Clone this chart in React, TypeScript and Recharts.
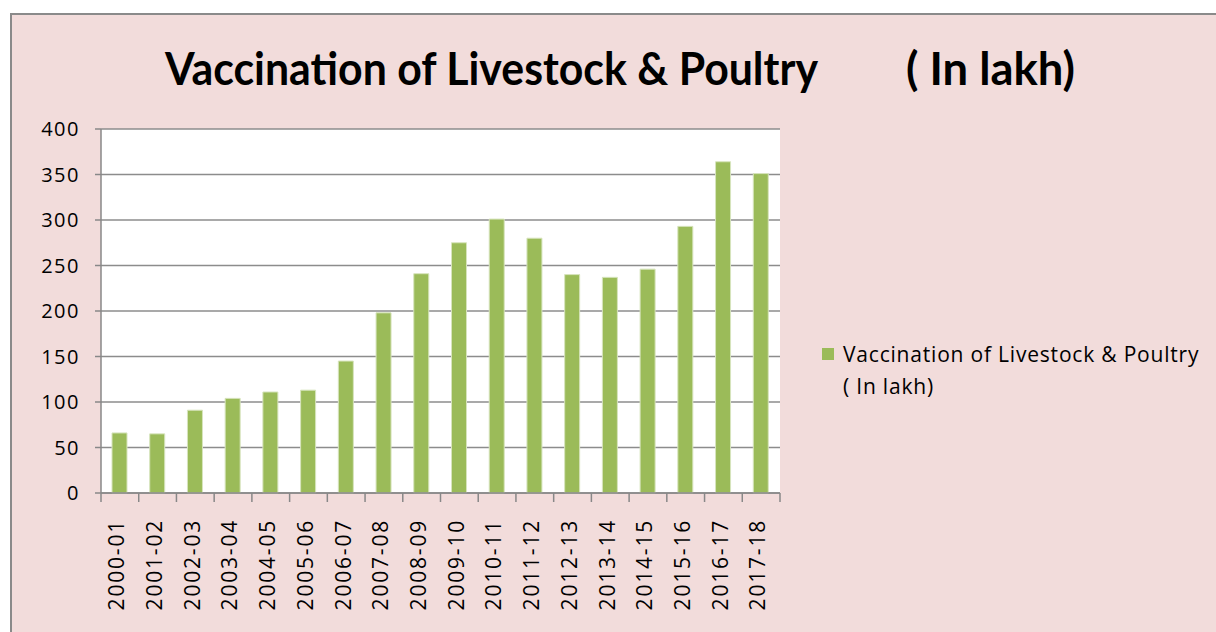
import { BarChart, Bar, XAxis, YAxis, CartesianGrid, Legend } from 'recharts';

const years = [
  '2000-01', '2001-02', '2002-03', '2003-04', '2004-05', '2005-06', '2006-07', '2007-08', '2008-09',
  '2009-10', '2010-11', '2011-12', '2012-13', '2013-14', '2014-15', '2015-16', '2016-17', '2017-18',
];
const vaccinations = [66, 65, 91, 104, 111, 113, 145, 198, 241, 275, 301, 280, 240, 237, 246, 293, 364, 351];
const yTicks = [0, 50, 100, 150, 200, 250, 300, 350, 400];

const seriesName = 'Vaccination of Livestock & Poultry ( In lakh)';
const data = years.map((year, i) => ({ year, value: vaccinations[i] }));

const W = 1204;
const H = 617;
const PLOT_LEFT = 89;
const PLOT_RIGHT = 768;
const BAND = (PLOT_RIGHT - PLOT_LEFT) / years.length;
const FONT = '"Open Sans", Arial, sans-serif';

function XTick(props: any) {
  const { x, y, payload, index } = props;
  const left = x - BAND / 2;
  return (
    <g>
      <line x1={left} y1={y} x2={left} y2={y + 9} stroke="#888" strokeWidth={1.5} />
      {index === years.length - 1 && (
        <line x1={x + BAND / 2} y1={y} x2={x + BAND / 2} y2={y + 9} stroke="#888" strokeWidth={1.5} />
      )}
      <text
        x={0}
        y={0}
        transform={`translate(${x - 3},${y + 26}) rotate(-90)`}
        textAnchor="end"
        dy="0.35em"
        fontSize={21}
        letterSpacing={1.8}
        fontFamily={FONT}
        fill="#000"
      >
        {payload.value}
      </text>
    </g>
  );
}

function LegendBox() {
  return (
    <div
      style={{
        position: 'relative',
        fontFamily: FONT,
        fontSize: 21,
        letterSpacing: 0.8,
        color: '#000',
        lineHeight: '32px',
        textAlign: 'left',
      }}
    >
      <span
        style={{ position: 'absolute', left: 0, top: 10, width: 12, height: 12, background: '#9BBB59' }}
      />
      <div style={{ marginLeft: 21 }}>
        Vaccination of Livestock &amp; Poultry
        <br />( In lakh)
      </div>
    </div>
  );
}

export default function App() {
  return (
    <div
      style={{
        position: 'absolute',
        left: 10,
        top: 13,
        width: W,
        height: H,
        background: '#F2DCDB',
        borderLeft: '2px solid #8a8a8a',
        borderTop: '2px solid #8a8a8a',
      }}
    >
      <svg style={{ position: 'absolute', left: 0, top: 0 }} width={W} height={100}>
        <text
          x={153}
          y={70}
          fontFamily="Lato, sans-serif"
          fontWeight={700}
          fontSize={46}
          textLength={653}
          lengthAdjust="spacingAndGlyphs"
          fill="#000"
        >
          Vaccination of Livestock &amp; Poultry
        </text>
        <text
          x={894}
          y={70}
          fontFamily="Lato, sans-serif"
          fontWeight={700}
          fontSize={46}
          textLength={169}
          lengthAdjust="spacingAndGlyphs"
          fill="#000"
        >
          ( In lakh)
        </text>
      </svg>
      <BarChart
        width={W}
        height={H}
        data={data}
        margin={{ top: 114, right: W - PLOT_RIGHT, bottom: 0, left: 0 }}
        barSize={15}
        style={{ position: 'absolute', left: 0, top: 0 }}
      >
        <CartesianGrid vertical={false} stroke="#8c8c8c" strokeWidth={1.5} fill="#fff" />
        <XAxis
          dataKey="year"
          height={139}
          interval={0}
          tickSize={0}
          tickMargin={0}
          axisLine={{ stroke: '#888', strokeWidth: 1.5 }}
          tickLine={false}
          tick={<XTick />}
        />
        <YAxis
          width={PLOT_LEFT}
          domain={[0, 400]}
          ticks={yTicks}
          interval={0}
          tickSize={6}
          tickMargin={15}
          axisLine={{ stroke: '#888', strokeWidth: 1.5 }}
          tickLine={{ stroke: '#888', strokeWidth: 1.5 }}
          tick={{ fill: '#000', fontSize: 20, fontFamily: FONT, letterSpacing: 1.5 }}
        />
        <Legend
          layout="horizontal"
          verticalAlign="middle"
          align="center"
          content={<LegendBox />}
          wrapperStyle={{ position: 'absolute', left: 810, top: 323, width: 400, height: 70 }}
        />
        <Bar
          dataKey="value"
          name={seriesName}
          fill="#9BBB59"
          stroke="#D7E4BD"
          strokeWidth={1}
          isAnimationActive={false}
        />
      </BarChart>
    </div>
  );
}
